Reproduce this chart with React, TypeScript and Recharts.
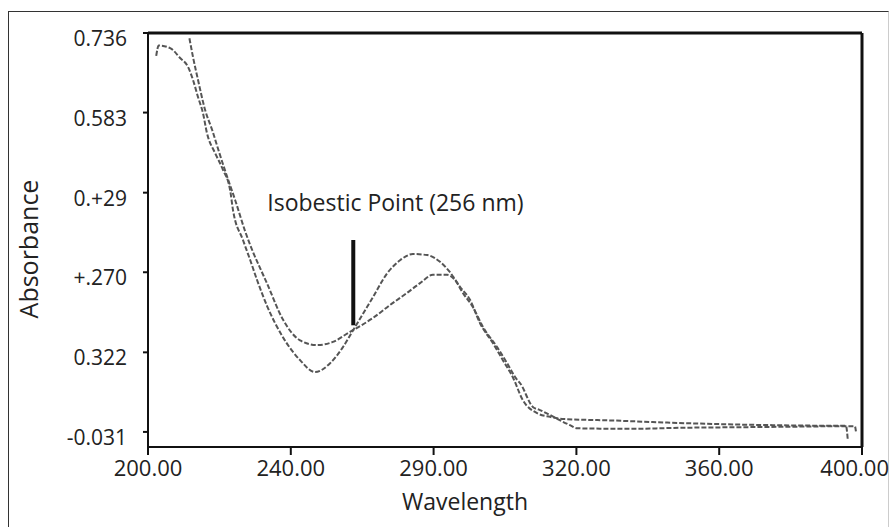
import React from "react";
import { LineChart, Line, XAxis, YAxis, ReferenceLine } from "recharts";

// Tick positions (nm / absorbance units) and the labels printed in the figure
const xTicks = [200, 240, 280, 320, 360, 400];
const xTickLabels = ["200.00", "240.00", "290.00", "320.00", "360.00", "400.00"];
const yTicks = [-0.031, 0.122, 0.276, 0.429, 0.583, 0.736];
const yTickLabels = ["-0.031", "0.322", "+.270", "0.+29", "0.583", "0.736"];

// Spectrum 1 (higher peak near 276 nm)
const wavelengthsB = [202.3, 203, 206.2, 209, 211.2, 212.6, 214, 215.4, 216.5, 218.8, 221, 223, 223.8, 226.6, 228.6, 230.5, 233.3, 237.8, 242.6, 246.8, 251, 254.6, 257.5, 263, 267, 270.6, 274.2, 278.2, 281.8, 284.6, 287.4, 290.2, 293, 296.6, 299.4, 302.2, 305, 309, 312.6, 316, 330, 345, 360, 375, 390, 395.5, 396];
const absorbanceB = [0.692, 0.712, 0.707, 0.688, 0.671, 0.646, 0.613, 0.582, 0.544, 0.505, 0.473, 0.434, 0.396, 0.338, 0.3, 0.262, 0.212, 0.151, 0.107, 0.084, 0.101, 0.132, 0.165, 0.228, 0.274, 0.299, 0.311, 0.309, 0.296, 0.276, 0.248, 0.223, 0.178, 0.14, 0.107, 0.074, 0.03, 0.005, -0.002, -0.006, -0.009, -0.013, -0.016, -0.018, -0.019, -0.019, -0.045];

// Spectrum 2 (lower, broader peak near 282 nm)
const wavelengthsA = [211.6, 212.6, 214, 216, 218, 220, 222.2, 224.4, 227.2, 229.4, 231.4, 233.3, 237.8, 242.6, 247.3, 251.8, 256, 257.5, 263, 267.8, 272.5, 276.2, 279.8, 283.8, 286, 288.2, 291, 293.8, 297.8, 300.6, 303.4, 304.2, 307.8, 309.8, 318.2, 320.2, 335, 350, 365, 380, 395, 398, 398.3];
const absorbanceA = [0.726, 0.69, 0.646, 0.588, 0.549, 0.505, 0.459, 0.415, 0.355, 0.315, 0.284, 0.255, 0.185, 0.145, 0.136, 0.142, 0.159, 0.165, 0.188, 0.213, 0.236, 0.255, 0.271, 0.271, 0.261, 0.236, 0.209, 0.171, 0.132, 0.101, 0.069, 0.063, 0.017, 0.011, -0.018, -0.024, -0.025, -0.023, -0.022, -0.021, -0.02, -0.02, -0.03];

const seriesA = wavelengthsA.map((wl, i) => ({ wl, abs: absorbanceA[i] }));
const seriesB = wavelengthsB.map((wl, i) => ({ wl, abs: absorbanceB[i] }));

const FONT = "'Open Sans', 'Noto Sans', sans-serif";
const CHART_W = 891;

const XTick = (props: any) => {
  const { x, y, payload } = props;
  const idx = xTicks.indexOf(payload.value);
  const halfW = 34;
  const overflow = x + halfW > CHART_W - 2;
  return (
    <text
      x={overflow ? CHART_W - 2 : x}
      y={y}
      dy="0.71em"
      textAnchor={overflow ? "end" : "middle"}
      fontSize={22}
      fill="#222"
      fontFamily={FONT}
    >
      {idx >= 0 ? xTickLabels[idx] : payload.value}
    </text>
  );
};

const YTick = (props: any) => {
  const { x, y, payload } = props;
  const idx = yTicks.indexOf(payload.value);
  return (
    <text x={x} y={y + 5} dominantBaseline="central" textAnchor="end" fontSize={21} fill="#222" fontFamily={FONT}>
      {idx >= 0 ? yTickLabels[idx] : payload.value}
    </text>
  );
};

const YTitle = (props: any) => {
  const vb = props.viewBox || { x: 0, y: 0, width: 0, height: 0 };
  const cx = vb.x + 20;
  const cy = vb.y + vb.height / 2 + 9;
  return (
    <text x={cx} y={cy} transform={`rotate(-90, ${cx}, ${cy})`} textAnchor="middle" dominantBaseline="central" fontSize={25} fill="#222" fontFamily={FONT}>
      Absorbance
    </text>
  );
};

const XTitle = (props: any) => {
  const vb = props.viewBox || { x: 0, y: 0, width: 0, height: 0 };
  const cx = vb.x + 317;
  const cy = vb.y + 63;
  return (
    <text x={cx} y={cy} textAnchor="middle" fontSize={23} fill="#222" fontFamily={FONT}>
      Wavelength
    </text>
  );
};

const IsoLabel = (props: any) => {
  const vb = props.viewBox || { x: 0, y: 0 };
  return (
    <text x={vb.x - 86} y={vb.y - 38} dominantBaseline="central" textAnchor="start" fontSize={23} fill="#222" fontFamily={FONT}>
      Isobestic Point (256 nm)
    </text>
  );
};

export default function App() {
  return (
    <div style={{ position: "fixed", left: 0, top: 0, width: 891, height: 527, background: "#fff", overflow: "hidden" }}>
      <div
        style={{
          position: "absolute",
          left: 8,
          top: 11,
          width: 879,
          height: 600,
          borderLeft: "1px solid #333",
          borderTop: "1px solid #333",
          borderRight: "1px solid #ccc",
        }}
      />
      <div style={{ position: "absolute", left: 0, top: 0 }}>
        <LineChart width={CHART_W} height={527} margin={{ top: 33, right: 29, bottom: 15, left: 8 }}>
          <XAxis
            type="number"
            dataKey="wl"
            domain={[200, 400]}
            ticks={xTicks}
            allowDataOverflow
            height={65}
            tickSize={8}
            tickMargin={5}
            tick={<XTick />}
            axisLine={{ stroke: "#111", strokeWidth: 2 }}
            tickLine={{ stroke: "#111", strokeWidth: 2 }}
            label={<XTitle />}
          />
          <YAxis
            type="number"
            domain={[-0.06, 0.736]}
            ticks={yTicks}
            allowDataOverflow
            width={140}
            tickSize={5}
            tickMargin={16}
            tick={<YTick />}
            axisLine={{ stroke: "#111", strokeWidth: 2 }}
            tickLine={{ stroke: "#111", strokeWidth: 2 }}
            label={<YTitle />}
          />
          <ReferenceLine y={0.736} stroke="#111" strokeWidth={3} />
          <ReferenceLine x={400} stroke="#111" strokeWidth={3} />
          <Line
            data={seriesA}
            dataKey="abs"
            type="monotone"
            stroke="#555"
            strokeWidth={2}
            strokeDasharray="5 2"
            dot={false}
            isAnimationActive={false}
          />
          <Line
            data={seriesB}
            dataKey="abs"
            type="monotone"
            stroke="#555"
            strokeWidth={2}
            strokeDasharray="5 2"
            dot={false}
            isAnimationActive={false}
          />
          <ReferenceLine
            segment={[
              { x: 257.5, y: 0.174 },
              { x: 257.5, y: 0.338 },
            ]}
            stroke="#111"
            strokeWidth={4}
            label={<IsoLabel />}
          />
        </LineChart>
      </div>
    </div>
  );
}
